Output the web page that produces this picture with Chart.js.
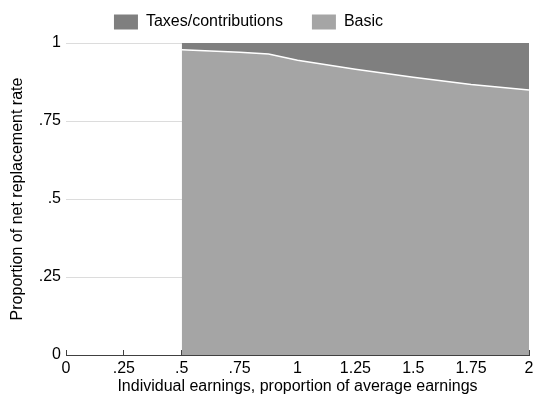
<!DOCTYPE html>
<html>
<head>
<meta charset="utf-8">
<script src="https://cdn.jsdelivr.net/npm/chart.js@4"></script>
<style>
  html, body { margin: 0; padding: 0; background: #fff; }
  #wrap { width: 537px; height: 401px; }
</style>
</head>
<body>
<div id="wrap"><canvas id="chart"></canvas></div>
<script>
const earnings = [0.5, 0.75, 0.875, 1, 1.25, 1.5, 1.75, 2];
const basicShare = [0.978, 0.970, 0.965, 0.945, 0.916, 0.890, 0.867, 0.849];
const taxesShare = [0.022, 0.030, 0.035, 0.055, 0.084, 0.110, 0.133, 0.151];

const xTickLabels = ['0', '.25', '.5', '.75', '1', '1.25', '1.5', '1.75', '2'];
const yTickLabels = ['0', '.25', '.5', '.75', '1'];

const toPoints = (vals) => earnings.map((x, i) => ({ x: x, y: vals[i] }));

const family = "'Liberation Sans', Arial, sans-serif";
const axisFont = { family: family, size: 16 };

// fixed legend height, and nudge it left like the reference
const legendTweak = {
  id: 'legendTweak',
  beforeLayout(chart) {
    const lg = chart.legend;
    if (lg && !lg._patched) {
      const fit = lg.fit;
      const draw = lg.draw;
      lg.fit = function () {
        fit.call(this);
        this.height = 58;
      };
      lg.draw = function () {
        this.ctx.save();
        this.ctx.translate(-22, 0);
        draw.call(this);
        this.ctx.restore();
      };
      lg._patched = true;
    }
  }
};

const chart = new Chart(document.getElementById('chart'), {
  type: 'line',
  data: {
    datasets: [
      {
        label: 'Basic',
        data: toPoints(basicShare),
        fill: 'origin',
        backgroundColor: '#a5a5a5',
        borderColor: '#ffffff',
        borderWidth: 1.5,
        pointRadius: 0,
        tension: 0
      },
      {
        label: 'Taxes/contributions',
        data: toPoints(taxesShare),
        fill: '-1',
        backgroundColor: '#7f7f7f',
        borderColor: '#7f7f7f',
        borderWidth: 0,
        pointRadius: 0,
        tension: 0
      }
    ]
  },
  plugins: [legendTweak],
  options: {
    responsive: true,
    maintainAspectRatio: false,
    animation: false,
    layout: { padding: { left: 6, right: 2, top: -15, bottom: 2 } },
    plugins: {
      legend: {
        reverse: true,
        labels: {
          color: '#000',
          font: axisFont,
          boxWidth: 24,
          boxHeight: 15,
          padding: 29,
          generateLabels: (c) => Chart.defaults.plugins.legend.labels.generateLabels(c).map((l) => {
            l.strokeStyle = l.fillStyle;
            l.lineWidth = 0;
            return l;
          })
        }
      },
      tooltip: { enabled: false }
    },
    scales: {
      x: {
        type: 'linear',
        min: 0,
        max: 2,
        afterFit: (s) => { s.height = 44; s.paddingRight = 8; s.paddingLeft = 0; },
        ticks: {
          stepSize: 0.25,
          color: '#000',
          font: axisFont,
          padding: 9,
          maxRotation: 0,
          callback: (v) => xTickLabels[Math.round(v / 0.25)]
        },
        grid: { drawOnChartArea: false, drawTicks: true, tickLength: -5, color: '#404040' },
        border: { display: true, color: '#404040', width: 1 },
        title: { display: true, text: 'Individual earnings, proportion of average earnings', color: '#000', font: axisFont, padding: { top: 0, bottom: 3 } }
      },
      y: {
        stacked: true,
        min: 0,
        max: 1,
        afterFit: (s) => { s.width = 60; },
        ticks: {
          stepSize: 0.25,
          color: '#000',
          font: axisFont,
          padding: 5,
          callback: (v) => yTickLabels[Math.round(v / 0.25)]
        },
        grid: { drawTicks: false, color: '#dcdcdc', lineWidth: 1 },
        border: { display: false },
        title: { display: true, text: 'Proportion of net replacement rate', color: '#000', font: axisFont, padding: { top: 2, bottom: 0 } }
      }
    }
  }
});
</script>
</body>
</html>
